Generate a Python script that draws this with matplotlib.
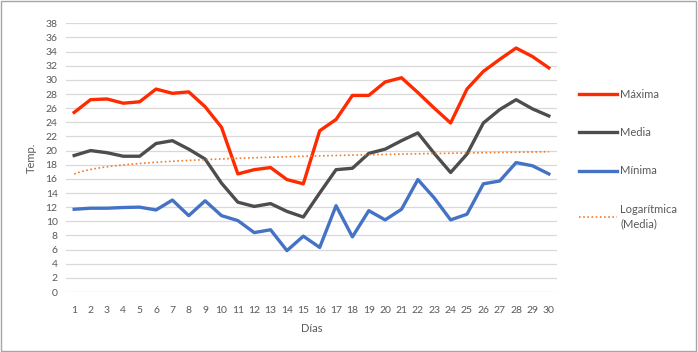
import numpy as np
import matplotlib
matplotlib.use('Agg')
import matplotlib.pyplot as plt
from matplotlib.patches import Rectangle

# daily temperatures
dias = list(range(1, 31))
maxima = [25.4, 27.2, 27.3, 26.7, 26.9, 28.7, 28.1, 28.3, 26.2, 23.3,
          16.7, 17.3, 17.6, 15.9, 15.3, 22.8, 24.4, 27.8, 27.8, 29.7,
          30.3, 28.2, 26.0, 23.9, 28.7, 31.2, 32.9, 34.5, 33.3, 31.7]
media = [19.3, 20.0, 19.7, 19.2, 19.2, 21.0, 21.4, 20.2, 18.8, 15.4,
         12.7, 12.1, 12.5, 11.4, 10.6, 14.0, 17.3, 17.5, 19.6, 20.2,
         21.4, 22.5, 19.6, 16.9, 19.5, 23.9, 25.8, 27.2, 25.9, 24.9]
minima = [11.7, 11.85, 11.85, 11.95, 12.0, 11.6, 13.0, 10.8, 12.9, 10.8,
          10.1, 8.4, 8.8, 5.85, 7.9, 6.3, 12.2, 7.8, 11.5, 10.2,
          11.7, 15.9, 13.3, 10.2, 11.0, 15.3, 15.7, 18.3, 17.85, 16.7]

plt.rcParams['font.family'] = ['Lato', 'DejaVu Sans']
txt = '#595959'

fig = plt.figure(figsize=(6.98, 3.52), dpi=100)
ax = fig.add_axes([66/698, 1 - 292/352, (557-66)/698, (292-23.3)/352])

x = np.array(dias)
ax.plot(x, maxima, color='#FF2B00', linewidth=2.4, label='Máxima', solid_joinstyle='round')
ax.plot(x, media, color='#4D4D4D', linewidth=2.4, label='Media', solid_joinstyle='round')
ax.plot(x, minima, color='#4472C4', linewidth=2.4, label='Mínima', solid_joinstyle='round')

# logarithmic trendline of Media
a, b = np.polyfit(np.log(x), media, 1)
xt = np.linspace(1, 30, 200)
ax.plot(xt, a*np.log(xt) + b, color='#ED7D31', linewidth=1.2, linestyle=(0, (1, 1.5)),
        label='Logarítmica\n(Media)')

ax.set_xlim(0.5, 30.5)
ax.set_ylim(0, 38)
ax.set_yticks(range(0, 39, 2))
ax.set_xticks(dias)
ax.grid(axis='y', color='#D9D9D9', linewidth=0.9)
ax.set_axisbelow(True)
for s in ax.spines.values():
    s.set_visible(False)
ax.tick_params(length=0, labelsize=7.5, colors=txt, pad=6)
ax.tick_params(axis='x', pad=10)
ax.set_xlabel('Días', fontsize=8, color=txt, labelpad=6)
ax.set_ylabel('Temp.', fontsize=8, color=txt, labelpad=6)

leg = fig.legend(loc='upper left', bbox_to_anchor=(569/698, 1 - 79/352), frameon=False,
                 fontsize=8, labelspacing=2.45, handlelength=3.4, handletextpad=0.3)
for t in leg.get_texts():
    t.set_color(txt)
    t.set_linespacing(1.35)

fig.patches.append(Rectangle((0.002, 0.003), 0.995, 0.993, transform=fig.transFigure,
                             fill=False, edgecolor='#A6A6A6', linewidth=1))

fig.savefig('out.png', dpi=100)
